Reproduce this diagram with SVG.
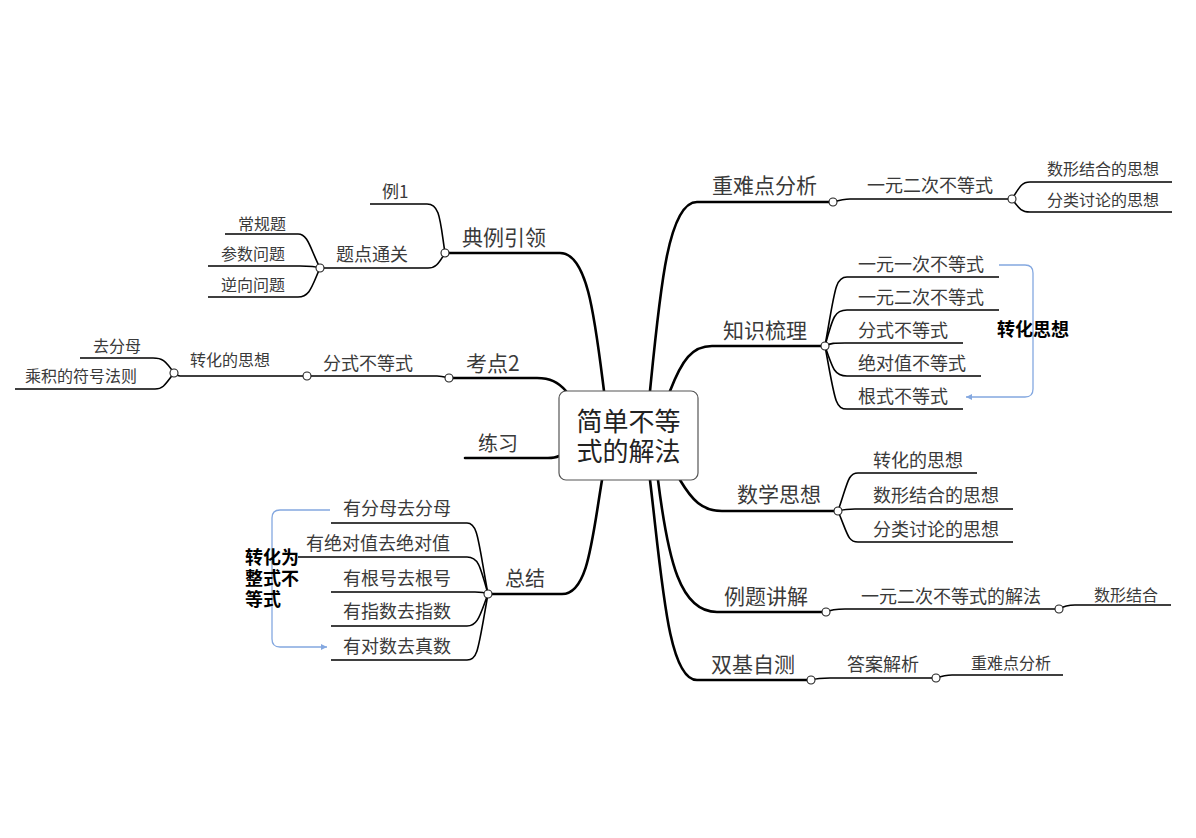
<svg xmlns="http://www.w3.org/2000/svg" width="1196" height="838" viewBox="0 0 1196 838">
<defs>
<style>
text{font-family:"Noto Sans CJK SC","Liberation Sans",sans-serif;fill:#3a3a3a}
.t21{font-size:21px}.t20{font-size:20px}.t18{font-size:18px}.t17{font-size:17px}.t16{font-size:16px}
.b{font-weight:bold;fill:#000}
.m{fill:none;stroke:#000;stroke-width:2.6;stroke-linecap:round}
.s{fill:none;stroke:#000;stroke-width:1.6}
.k{fill:#fff;stroke:#222;stroke-width:1.1}
.rel{fill:none;stroke:#84a8e0;stroke-width:1.3}
</style>
<marker id="ar" markerWidth="8" markerHeight="8" refX="6" refY="3" orient="auto" markerUnits="userSpaceOnUse">
<path d="M0,0 L6,3 L0,6 Z" fill="#84a8e0"/>
</marker>
</defs>
<rect width="1196" height="838" fill="#fff"/>
<g id="connectors">
<path class="m" d="M604,391 C595,320 588,253 560,253 L445,253"/>
<path class="m" d="M650,391 C660,290 668,202 697,202 L833,202"/>
<path class="m" d="M670,391 C682,360 692,346 712,346 L825,346"/>
<path class="m" d="M566,391 C558,382 550,378 537,378 L449,378"/>
<path class="m" d="M559,456 C555,458 552,458 548,458 L465,458"/>
<path class="m" d="M602,480 C592,540 588,594 562,594 L488,594"/>
<path class="m" d="M680,480 C692,500 702,511 722,511 L838,511"/>
<path class="m" d="M658,480 C668,560 680,612 717,612 L826,612"/>
<path class="m" d="M650,480 C662,580 668,680 697,680 L811,680"/>
<path class="s" d="M445,253 C440,220 440,204 427,204 L370,204"/>
<path class="s" d="M445,253 C438,265 435,268 428,268 L320,268"/>
<path class="s" d="M320,268 C310,248 308,234 298,234 L225,234"/>
<path class="s" d="M320,268 C315,266 310,266 300,266 L208,266"/>
<path class="s" d="M320,268 C312,286 310,297 298,297 L208,297"/>
<path class="s" d="M449,378 C445,377 442,376 437,376 L307,376"/>
<path class="s" d="M307,376 L293,376 L180,376 C177,376 176,374 174,373"/>
<path class="s" d="M174,373 C165,360 162,358 153,358 L80,358"/>
<path class="s" d="M174,373 C165,385 163,389 155,389 L15,389"/>
<path class="s" d="M488,594 C478,540 478,523 467,523 L331,523"/>
<path class="s" d="M488,594 C480,565 478,557 467,557 L298,557"/>
<path class="s" d="M488,594 C484,592 480,592 475,592 L331,592"/>
<path class="s" d="M488,594 C480,615 478,626 467,626 L331,626"/>
<path class="s" d="M488,594 C478,650 478,660 467,660 L331,660"/>
<path class="s" d="M833,202 C840,200 845,199 850,199 L1012,199"/>
<path class="s" d="M1012,199 C1020,186 1022,182 1030,182 L1172,182"/>
<path class="s" d="M1012,199 C1020,210 1022,212 1030,212 L1172,212"/>
<path class="s" d="M825,346 C835,290 835,277 847,277 L999,277"/>
<path class="s" d="M825,346 C833,316 835,310 847,310 L999,310"/>
<path class="s" d="M825,346 C830,343 835,343 845,343 L963,343"/>
<path class="s" d="M825,346 C833,370 835,376 847,376 L981,376"/>
<path class="s" d="M825,346 C835,400 835,409 847,409 L963,409"/>
<path class="s" d="M838,511 C848,482 848,473 858,473 L977,473"/>
<path class="s" d="M838,511 C845,509 848,509 855,509 L1013,509"/>
<path class="s" d="M838,511 C848,535 848,542 858,542 L1013,542"/>
<path class="s" d="M826,612 C832,609 838,609 845,609 L1059,609"/>
<path class="s" d="M1059,609 C1064,606 1068,605 1075,605 L1171,605"/>
<path class="s" d="M811,680 C818,678 822,678 830,678 L936,678"/>
<path class="s" d="M936,678 C942,676 946,675 952,675 L1063,675"/>
<path class="rel" d="M999,265 L1025,265 Q1033,265 1033,273 L1033,389 Q1033,397 1025,397 L966,397" marker-end="url(#ar)"/>
<path class="rel" d="M330,510 L280,510 Q272,510 272,518 L272,639 Q272,647 280,647 L327,647" marker-end="url(#ar)"/>
<circle class="k" cx="445" cy="253" r="4"/>
<circle class="k" cx="320" cy="268" r="4"/>
<circle class="k" cx="449" cy="378" r="4"/>
<circle class="k" cx="307" cy="376" r="4"/>
<circle class="k" cx="174" cy="373" r="4"/>
<circle class="k" cx="488" cy="594" r="4"/>
<circle class="k" cx="833" cy="202" r="4"/>
<circle class="k" cx="1012" cy="199" r="4"/>
<circle class="k" cx="825" cy="346" r="4"/>
<circle class="k" cx="838" cy="511" r="4"/>
<circle class="k" cx="826" cy="612" r="4"/>
<circle class="k" cx="1059" cy="609" r="4"/>
<circle class="k" cx="811" cy="680" r="4"/>
<circle class="k" cx="936" cy="678" r="4"/>
</g>
<g id="root">
<rect x="559" y="391" width="139" height="89" rx="7" fill="#fff" stroke="#555" stroke-width="1.2"/>
<text font-size="26" text-anchor="middle" style="fill:#222"><tspan x="628.5" y="431">简单不等</tspan><tspan x="628.5" y="461">式的解法</tspan></text>
</g>
<g id="n-dianli"><text class="t21" x="462" y="245">典例引领</text></g>
<g id="n-li1"><text class="t17" x="382" y="198">例1</text></g>
<g id="n-tidian"><text class="t18" x="336" y="261">题点通关</text></g>
<g id="n-changgui"><text class="t16" x="238" y="230">常规题</text></g>
<g id="n-canshu"><text class="t16" x="221" y="260">参数问题</text></g>
<g id="n-nixiang"><text class="t16" x="221" y="291">逆向问题</text></g>
<g id="n-kaodian2"><text class="t21" x="466" y="371">考点2</text></g>
<g id="n-fenshi-l"><text class="t18" x="323" y="370">分式不等式</text></g>
<g id="n-zhuanhua-l"><text class="t16" x="190" y="366">转化的思想</text></g>
<g id="n-qufenmu"><text class="t16" x="93" y="352">去分母</text></g>
<g id="n-chengji"><text class="t16" x="25" y="382">乘积的符号法则</text></g>
<g id="n-lianxi"><text class="t20" x="478" y="451">练习</text></g>
<g id="n-zongjie"><text class="t20" x="505" y="586">总结</text></g>
<g id="n-z1"><text class="t18" x="343" y="515">有分母去分母</text></g>
<g id="n-z2"><text class="t18" x="306" y="550">有绝对值去绝对值</text></g>
<g id="n-z3"><text class="t18" x="343" y="585">有根号去根号</text></g>
<g id="n-z4"><text class="t18" x="343" y="618">有指数去指数</text></g>
<g id="n-z5"><text class="t18" x="343" y="653">有对数去真数</text></g>
<g id="n-zhengshi"><text class="t18 b"><tspan x="245" y="564">转化为</tspan><tspan x="245" y="585">整式不</tspan><tspan x="245" y="606">等式</tspan></text></g>
<g id="n-zhongnan"><text class="t21" x="712" y="193">重难点分析</text></g>
<g id="n-yiyuan2a"><text class="t18" x="867" y="192">一元二次不等式</text></g>
<g id="n-shuxing1"><text class="t16" x="1047" y="175">数形结合的思想</text></g>
<g id="n-fenlei1"><text class="t16" x="1047" y="206">分类讨论的思想</text></g>
<g id="n-zhishi"><text class="t21" x="723" y="338">知识梳理</text></g>
<g id="n-k1"><text class="t18" x="858" y="271">一元一次不等式</text></g>
<g id="n-k2"><text class="t18" x="858" y="304">一元二次不等式</text></g>
<g id="n-k3"><text class="t18" x="858" y="337">分式不等式</text></g>
<g id="n-k4"><text class="t18" x="858" y="370">绝对值不等式</text></g>
<g id="n-k5"><text class="t18" x="858" y="403">根式不等式</text></g>
<g id="n-zhuanhuasx"><text class="t18 b" x="997" y="336">转化思想</text></g>
<g id="n-shuxue"><text class="t21" x="737" y="502">数学思想</text></g>
<g id="n-s1"><text class="t18" x="873" y="467">转化的思想</text></g>
<g id="n-s2"><text class="t18" x="873" y="502">数形结合的思想</text></g>
<g id="n-s3"><text class="t18" x="873" y="536">分类讨论的思想</text></g>
<g id="n-liti"><text class="t21" x="724" y="604">例题讲解</text></g>
<g id="n-jiefa"><text class="t18" x="861" y="603">一元二次不等式的解法</text></g>
<g id="n-shuxing2"><text class="t16" x="1094" y="601">数形结合</text></g>
<g id="n-shuangji"><text class="t21" x="711" y="672">双基自测</text></g>
<g id="n-daan"><text class="t18" x="847" y="671">答案解析</text></g>
<g id="n-zhongnan2"><text class="t16" x="971" y="669">重难点分析</text></g>
</svg>
